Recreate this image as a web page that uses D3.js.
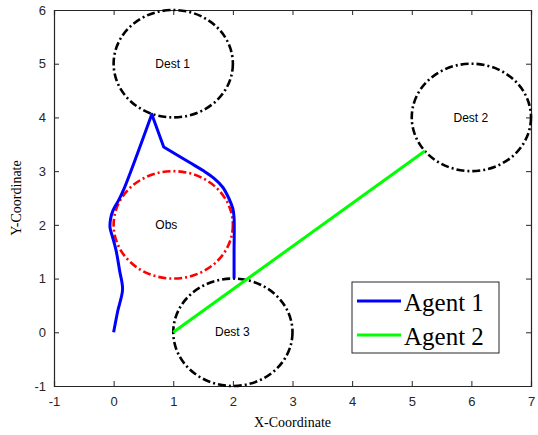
<!DOCTYPE html>
<html>
<head>
<meta charset="utf-8">
<script src="https://cdn.jsdelivr.net/npm/d3@7"></script>
<style>
  body { margin: 0; background: #fff; }
  svg { display: block; }
</style>
</head>
<body>
<svg id="chart"></svg>
<script>
// agent paths (data coords); corner points are repeated so the curve keeps them sharp
var agent1X = [0, 0.07, 0.15, 0.1, 0.04, -0.02, -0.06, -0.05, -0.01, 0.08, 0.17, 0.64, 0.64, 0.84, 0.84, 1.05, 1.29, 1.5, 1.68, 1.83, 1.93, 2.0, 2.02, 2.02, 2.02];
var agent1Y = [0, 0.4, 0.8, 1.15, 1.53, 1.78, 1.95, 2.12, 2.27, 2.45, 2.66, 4.06, 4.06, 3.45, 3.45, 3.31, 3.15, 3.01, 2.87, 2.7, 2.5, 2.3, 2.13, 1.5, 1.0];
var agent2X = [1, 5.22];
var agent2Y = [0, 3.375];

// circles: destinations and obstacle
var circleNames = ['Dest 1', 'Dest 2', 'Dest 3', 'Obs'];
var circleX = [1, 6, 2, 1];
var circleY = [5, 4, 0, 2];
var circleR = [1, 1, 1, 1];
var circleColor = ['#000', '#000', '#000', '#ff0000'];

var xTicks = [-1, 0, 1, 2, 3, 4, 5, 6, 7];
var yTicks = [-1, 0, 1, 2, 3, 4, 5, 6];
var legendNames = ['Agent 1', 'Agent 2'];
var legendColors = ['#0000ff', '#00ff00'];

var width = 538, height = 435;
var padLeft = 54, padRight = 531, padTop = 10, padBottom = 386;

var svg = d3.select('#chart').attr('width', width).attr('height', height);

var x = d3.scaleLinear().domain([-1, 7]).range([padLeft, padRight]);
var y = d3.scaleLinear().domain([-1, 6]).range([padBottom, padTop]);

var axisColor = '#262626';
var tickFont = '"Liberation Sans", Arial, Helvetica, sans-serif';
var fmt = function(d){ return String(d); };

// axes
var xAxis = svg.append('g').attr('transform', 'translate(0,' + padBottom + ')')
  .call(d3.axisBottom(x).tickValues(xTicks).tickSize(-5).tickPadding(8).tickFormat(fmt));
var yAxis = svg.append('g').attr('transform', 'translate(' + padLeft + ',0)')
  .call(d3.axisLeft(y).tickValues(yTicks).tickSize(-5).tickPadding(8).tickFormat(fmt));
var xTop = svg.append('g').attr('transform', 'translate(0,' + padTop + ')')
  .call(d3.axisTop(x).tickValues(xTicks).tickSize(-5).tickFormat(''));
var yRight = svg.append('g').attr('transform', 'translate(' + padRight + ',0)')
  .call(d3.axisRight(y).tickValues(yTicks).tickSize(-5).tickFormat(''));

[xAxis, yAxis, xTop, yRight].forEach(function(g){
  g.select('.domain').attr('stroke', axisColor).attr('stroke-width', 1.2);
  g.selectAll('.tick line').attr('stroke', axisColor).attr('stroke-width', 1);
  g.selectAll('.tick text').attr('fill', axisColor).attr('font-size', 13).attr('font-family', tickFont);
});
xAxis.selectAll('.tick text').attr('dy', '0.9em');

// circles
var circles = svg.append('g');
circleNames.forEach(function(name, i){
  circles.append('ellipse')
    .attr('cx', x(circleX[i]))
    .attr('cy', y(circleY[i]))
    .attr('rx', x(circleX[i] + circleR[i]) - x(circleX[i]))
    .attr('ry', y(circleY[i]) - y(circleY[i] + circleR[i]))
    .attr('fill', 'none')
    .attr('stroke', circleColor[i])
    .attr('stroke-width', 2.6)
    .attr('stroke-dasharray', '8,3,2,3');
  circles.append('text')
    .attr('x', x(circleX[i] - 0.3))
    .attr('y', y(circleY[i]))
    .attr('dy', '0.35em')
    .attr('font-size', 12)
    .attr('font-family', tickFont)
    .attr('fill', '#000')
    .text(name);
});

// paths
var line = d3.line()
  .x(function(d){ return x(d[0]); })
  .y(function(d){ return y(d[1]); })
  .curve(d3.curveCatmullRom.alpha(0.5));
var paths = [d3.zip(agent1X, agent1Y), d3.zip(agent2X, agent2Y)];
svg.append('g').selectAll('path').data(paths).enter().append('path')
  .attr('d', line)
  .attr('fill', 'none')
  .attr('stroke', function(d, i){ return legendColors[i]; })
  .attr('stroke-width', 3)
  .attr('stroke-linejoin', 'round');

// axis labels
svg.append('text')
  .attr('x', (padLeft + padRight) / 2).attr('y', 427)
  .attr('text-anchor', 'middle')
  .attr('font-family', '"Liberation Serif", "Times New Roman", serif')
  .attr('font-size', 14)
  .text('X-Coordinate');
svg.append('text')
  .attr('transform', 'translate(21,' + (padTop + padBottom) / 2 + ') rotate(-90)')
  .attr('text-anchor', 'middle')
  .attr('font-family', '"Liberation Serif", "Times New Roman", serif')
  .attr('font-size', 14)
  .text('Y-Coordinate');

// legend
var legend = svg.append('g');
legend.append('rect')
  .attr('x', 352).attr('y', 282).attr('width', 147).attr('height', 71)
  .attr('fill', '#fff').attr('stroke', '#262626').attr('stroke-width', 1);
legendNames.forEach(function(name, i){
  var ly = 301 + i * 34;
  legend.append('line')
    .attr('x1', 357).attr('x2', 401).attr('y1', ly).attr('y2', ly)
    .attr('stroke', legendColors[i]).attr('stroke-width', 3);
  legend.append('text')
    .attr('x', 404).attr('y', ly + 10)
    .attr('font-family', '"Liberation Serif", "Times New Roman", serif')
    .attr('font-size', 25)
    .text(name);
});
</script>
</body>
</html>
